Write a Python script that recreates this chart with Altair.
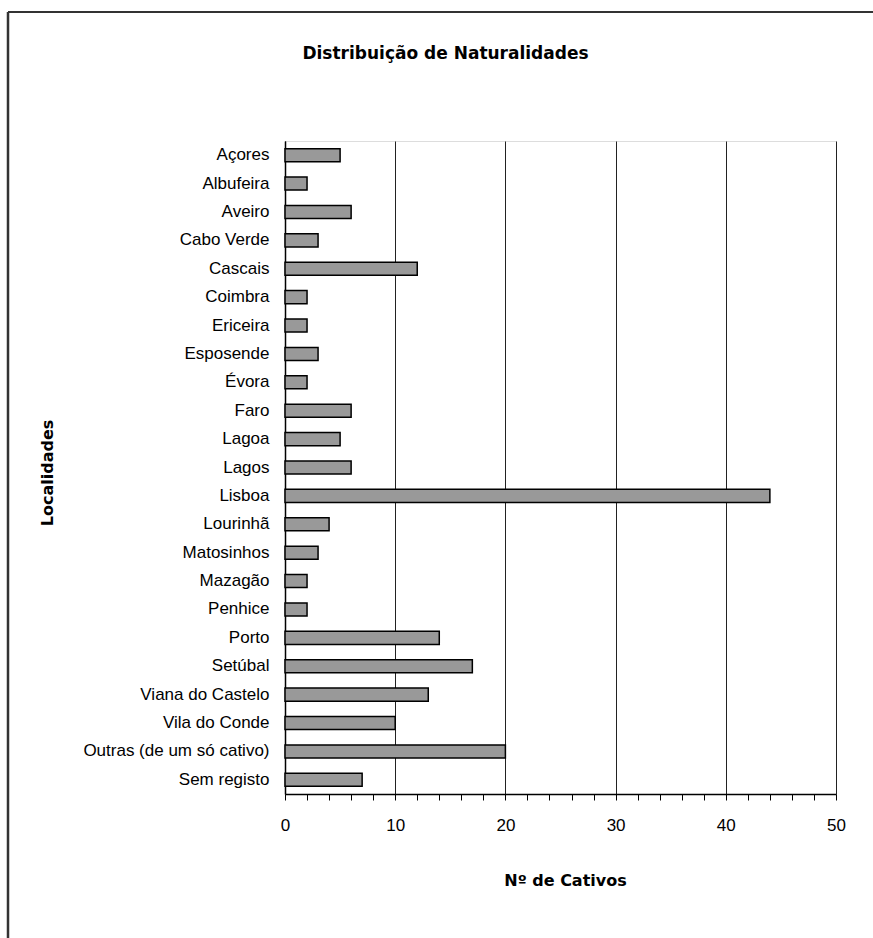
import altair as alt
import pandas as pd

# Birthplaces of the captives and how many came from each
localidades = [
    "Açores", "Albufeira", "Aveiro", "Cabo Verde", "Cascais", "Coimbra",
    "Ericeira", "Esposende", "Évora", "Faro", "Lagoa", "Lagos", "Lisboa",
    "Lourinhã", "Matosinhos", "Mazagão", "Penhice", "Porto", "Setúbal",
    "Viana do Castelo", "Vila do Conde", "Outras (de um só cativo)", "Sem registo",
]
cativos = [5, 2, 6, 3, 12, 2, 2, 3, 2, 6, 5, 6, 44, 4, 3, 2, 2, 14, 17, 13, 10, 20, 7]

x_ticks = list(range(0, 51, 2))

df = pd.DataFrame({"Localidade": localidades, "Cativos": cativos})

W, H = 551, 653
PAD_L, PAD_T = 285, 141

bars = alt.Chart(df).mark_bar(
    color="#999999", stroke="#000000", strokeWidth=1.5
).encode(
    y=alt.Y(
        "Localidade:N",
        sort=localidades,
        scale=alt.Scale(paddingInner=0.54, paddingOuter=0.27),
        axis=alt.Axis(
            title="Localidades",
            ticks=False,
            labelPadding=16,
            labelFont="Liberation Sans",
            labelFontSize=17,
            labelColor="#000000",
            labelLimit=400,
            domainColor="#000000",
            domainWidth=1.5,
            titleFont="DejaVu Sans",
            titleFontWeight="bold",
            titleFontSize=16,
            titleAngle=270,
            titleAlign="center",
            titleBaseline="middle",
            titleX=47 - PAD_L,
            titleY=H / 2 + 5,
            grid=False,
        ),
    ),
    x=alt.X(
        "Cativos:Q",
        scale=alt.Scale(domain=[0, 50], nice=False),
        axis=alt.Axis(
            title="Nº de Cativos",
            values=x_ticks,
            labelExpr="datum.value % 10 == 0 ? datum.label : ''",
            gridOpacity=alt.ExprRef("datum.value % 10 == 0 ? 1 : 0"),
            gridColor="#222222",
            gridWidth=1,
            tickColor="#000000",
            tickSize=6,
            tickWidth=1,
            labelPadding=17,
            labelFont="Liberation Sans",
            labelFontSize=17,
            labelColor="#000000",
            labelFlush=False,
            domainColor="#000000",
            domainWidth=1.5,
            titleFont="DejaVu Sans",
            titleFontWeight="bold",
            titleFontSize=16,
            titleBaseline="middle",
            titleX=280,
            titleY=86,
        ),
    ),
)

# Outer frame around the whole figure (left and top edges)
frame_data = pd.DataFrame({"k": [0]})
frame_left = alt.Chart(frame_data).mark_rule(color="#333333", strokeWidth=2.5).encode(
    x=alt.value(8 - PAD_L), y=alt.value(12 - PAD_T), y2=alt.value(938 - PAD_T + 10)
)
frame_top = alt.Chart(frame_data).mark_rule(color="#333333", strokeWidth=2).encode(
    x=alt.value(8 - PAD_L), x2=alt.value(873 - PAD_L + 10), y=alt.value(12 - PAD_T)
)

chart = alt.layer(bars, frame_left, frame_top).properties(
    width=W,
    height=H,
    title=alt.TitleParams(
        "Distribuição de Naturalidades",
        font="DejaVu Sans",
        fontWeight="bold",
        fontSize=17,
        color="#000000",
        anchor="middle",
        dx=-115,
        offset=-69,
        baseline="bottom",
    ),
    autosize=alt.AutoSizeParams(type="none"),
    padding={"left": PAD_L, "top": PAD_T, "right": 873 - PAD_L - W, "bottom": 938 - PAD_T - H},
).configure_view(
    stroke="#333333", strokeWidth=1.5
).configure(background="#ffffff")

chart.save("out.html", embed_options={"renderer": "svg", "actions": False})
